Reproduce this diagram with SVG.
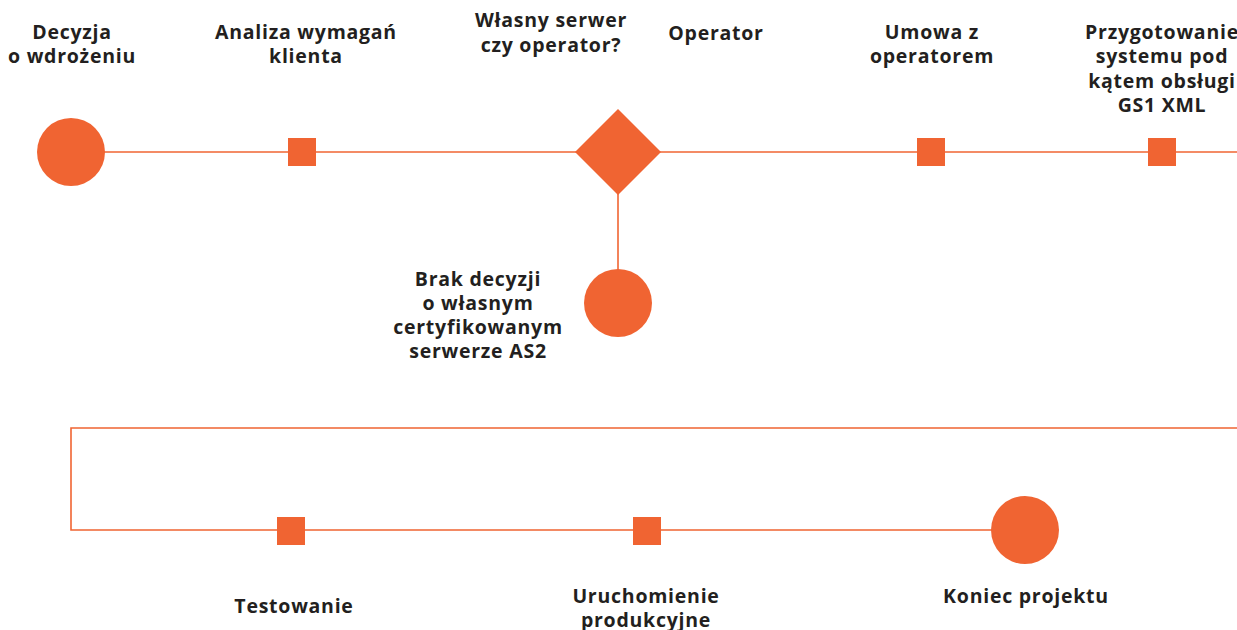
<svg xmlns="http://www.w3.org/2000/svg" width="1237" height="630" viewBox="0 0 1237 630">
<style>
.lbl{font-family:"Open Sans","Liberation Sans",sans-serif;font-weight:700;font-size:19.5px;letter-spacing:0.75px;fill:#231F20;text-anchor:middle}
.fill{fill:#F06432}
.conn{stroke:#F06432;stroke-width:1.6;fill:none}
</style>
<rect width="1237" height="630" fill="#ffffff"/>
<g id="connectors">
<line class="conn" x1="71" y1="152" x2="1237" y2="152"/>
<line class="conn" x1="618" y1="152" x2="618" y2="303"/>
<polyline class="conn" points="1237,428 71,428 71,530 1025,530"/>
</g>
<g id="start"><circle class="fill" cx="71" cy="152" r="34"/>
<text class="lbl" x="72" y="39">Decyzja</text><text class="lbl" x="72" y="63">o wdrożeniu</text></g>
<g id="analiza"><rect class="fill" x="288" y="138" width="28" height="28"/>
<text class="lbl" x="306" y="39">Analiza wymagań</text><text class="lbl" x="306" y="63">klienta</text></g>
<g id="decision"><polygon class="fill" points="618,109 661,152 618,195 575,152"/>
<text class="lbl" x="551" y="27">Własny serwer</text><text class="lbl" x="551" y="52">czy operator?</text></g>
<g id="operator-label"><text class="lbl" x="716" y="40">Operator</text></g>
<g id="brak"><circle class="fill" cx="618" cy="303" r="34"/>
<text class="lbl" x="478" y="286">Brak decyzji</text><text class="lbl" x="478" y="310">o własnym</text><text class="lbl" x="478" y="334">certyfikowanym</text><text class="lbl" x="478" y="358">serwerze AS2</text></g>
<g id="umowa"><rect class="fill" x="917" y="138" width="28" height="28"/>
<text class="lbl" x="932" y="39">Umowa z</text><text class="lbl" x="932" y="63">operatorem</text></g>
<g id="przygotowanie"><rect class="fill" x="1148" y="138" width="28" height="28"/>
<text class="lbl" x="1162" y="39">Przygotowanie</text><text class="lbl" x="1162" y="63">systemu pod</text><text class="lbl" x="1162" y="88">kątem obsługi</text><text class="lbl" x="1162" y="112">GS1 XML</text></g>
<g id="testowanie"><rect class="fill" x="277" y="517" width="28" height="28"/>
<text class="lbl" x="294" y="613">Testowanie</text></g>
<g id="uruchomienie"><rect class="fill" x="633" y="517" width="28" height="28"/>
<text class="lbl" x="646" y="603">Uruchomienie</text><text class="lbl" x="646" y="627">produkcyjne</text></g>
<g id="koniec"><circle class="fill" cx="1025" cy="530" r="34"/>
<text class="lbl" x="1026" y="603">Koniec projektu</text></g>
</svg>
